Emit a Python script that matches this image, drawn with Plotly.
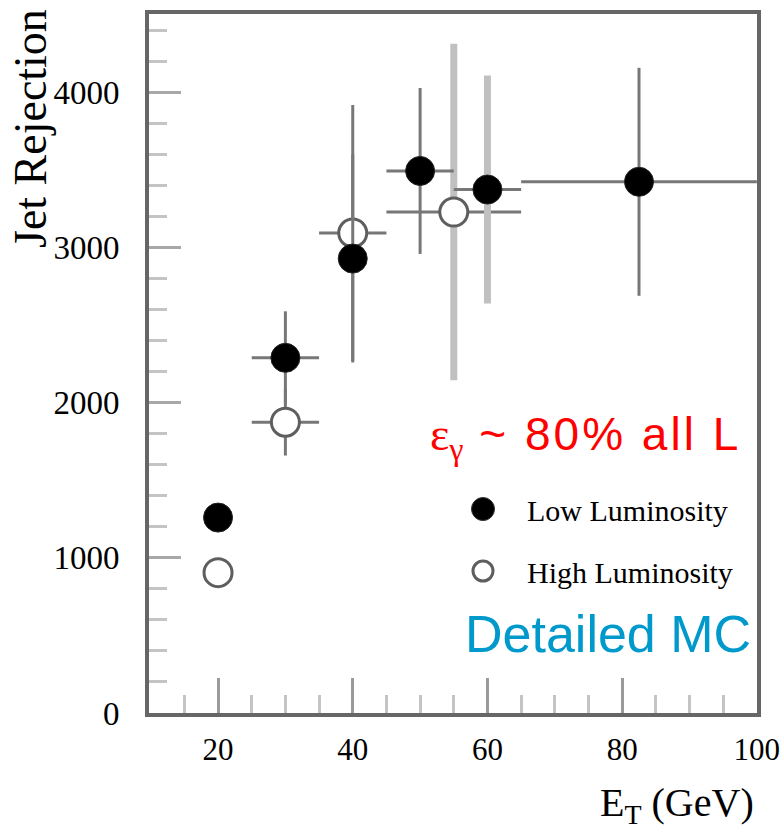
import plotly.graph_objects as go

# Jet rejection vs photon E_T, detailed Monte Carlo
et_low = [20, 30, 40, 50, 60, 82.5]
rej_low = [1260, 2290, 2930, 3495, 3375, 3425]
rej_low_err = [0, 300, 670, 535, 735, 735]
et_low_err = [0, 5, 1, 5, 5, 17.5]

et_high = [20, 30, 40, 55]
rej_high = [905, 1875, 3095, 3230]
rej_high_err = [0, 215, 825, 1085]
et_high_err = [0, 5, 5, 10]

x_ticks = [20, 40, 60, 80, 100]
y_ticks = [0, 1000, 2000, 3000, 4000]

# points whose vertical bar is drawn as a wide light band
band_et = {55, 60}

DARK = "#777777"
LIGHT = "#c0c0c0"
SERIF = "Liberation Serif"
SANS = "Liberation Sans"


def split(xs, ys, ex, ey, in_band):
    idx = [i for i, x in enumerate(xs) if (x in band_et) == in_band]
    return ([xs[i] for i in idx], [ys[i] for i in idx],
            [ex[i] for i in idx], [ey[i] for i in idx])


def add_points(xs, ys, ex, ey, marker, band):
    fig.add_trace(go.Scatter(
        x=xs, y=ys, mode="markers", marker=marker, showlegend=False,
        error_x=dict(type="data", array=ex, color=DARK, thickness=3, width=0),
        error_y=dict(type="data", array=ey,
                     color=LIGHT if band else DARK,
                     thickness=7 if band else 3, width=0),
        hoverinfo="x+y",
    ))


fig = go.Figure()

open_marker = dict(symbol="circle", size=28, color="white",
                   line=dict(color="#5e5e5e", width=3))
filled_marker = dict(symbol="circle", size=29, color="black",
                     line=dict(color="#222222", width=1))

for band in (False, True):
    xs, ys, ex, ey = split(et_high, rej_high, et_high_err, rej_high_err, band)
    add_points(xs, ys, ex, ey, open_marker, band)
for band in (False, True):
    xs, ys, ex, ey = split(et_low, rej_low, et_low_err, rej_low_err, band)
    add_points(xs, ys, ex, ey, filled_marker, band)

W, H = 781, 831
L, R, T, B = 149, 24, 14, 118

fig.update_layout(
    width=W, height=H,
    margin=dict(l=L, r=R, t=T, b=B, pad=0),
    paper_bgcolor="white", plot_bgcolor="white",
    font=dict(family=SERIF, color="black"),
    showlegend=False,
)

fig.update_xaxes(
    range=[9.75, 100.02], tickvals=x_ticks, ticktext=[str(v) for v in x_ticks],
    ticks="inside", ticklen=35, tickwidth=3, tickcolor="#9a9a9a",
    minor=dict(tickvals=[15, 25, 30, 35, 45, 50, 55, 65, 70, 75, 85, 90, 95],
               ticks="inside", ticklen=18, tickwidth=3,
               tickcolor="#c4c4c4", showgrid=False),
    showline=True, linewidth=4, linecolor="#666666", mirror=True,
    showgrid=False, zeroline=False,
    tickfont=dict(family=SERIF, size=31, color="black"),
    ticklabelstandoff=6, ticklabeloverflow="allow", automargin=False,
)
fig.update_yaxes(
    range=[0, 4507], tickvals=y_ticks, ticktext=[str(v) for v in y_ticks],
    ticks="inside", ticklen=32, tickwidth=3, tickcolor="#a8a8a8",
    minor=dict(dtick=200, tick0=0, ticks="inside", ticklen=18, tickwidth=3,
               tickcolor="#c4c4c4", showgrid=False),
    showline=True, linewidth=4, linecolor="#666666", mirror=True,
    showgrid=False, zeroline=False,
    tickfont=dict(family=SERIF, size=33, color="black"),
    ticklabelstandoff=19, automargin=False,
)


def px_x(p):
    return (p - L) / (W - L - R)


def px_y(p):
    return (H - B - p) / (H - T - B)


# legend symbols
fig.add_shape(type="circle", xref="paper", yref="paper",
              xsizemode="pixel", ysizemode="pixel",
              xanchor=px_x(483), yanchor=px_y(509),
              x0=-11.5, x1=11.5, y0=-11.5, y1=11.5,
              fillcolor="black", line=dict(color="#333333", width=1))
fig.add_shape(type="circle", xref="paper", yref="paper",
              xsizemode="pixel", ysizemode="pixel",
              xanchor=px_x(483), yanchor=px_y(571),
              x0=-10, x1=10, y0=-10, y1=10,
              fillcolor="white", line=dict(color="#5e5e5e", width=3))

annotations = [
    dict(text="Low Luminosity", x=px_x(525), y=px_y(510),
         xanchor="left", yanchor="middle",
         font=dict(family=SERIF, size=30, color="black")),
    dict(text="High Luminosity", x=px_x(525), y=px_y(572),
         xanchor="left", yanchor="middle",
         font=dict(family=SERIF, size=30, color="black")),
    dict(text='<span style="font-family:Liberation Serif">ε<sub>γ</sub></span>'
              '<span style="letter-spacing:3px"> ~ 80% all L</span>',
         x=px_x(743), y=px_y(437), xanchor="right", yanchor="middle",
         font=dict(family=SANS, size=46, color="#ff0000")),
    dict(text="Detailed MC", x=px_x(753), y=px_y(634), xanchor="right",
         yanchor="middle", font=dict(family=SANS, size=52, color="#0099cc")),
    dict(text="Jet Rejection", x=px_x(30), y=px_y(129), textangle=-90,
         xanchor="center", yanchor="middle",
         font=dict(family=SERIF, size=46, color="black")),
    dict(text="E<sub>T</sub> (GeV)", x=px_x(756), y=px_y(805),
         xanchor="right", yanchor="middle",
         font=dict(family=SERIF, size=40, color="black")),
]
for a in annotations:
    fig.add_annotation(xref="paper", yref="paper", showarrow=False, **a)

fig.write_html("out.html")
